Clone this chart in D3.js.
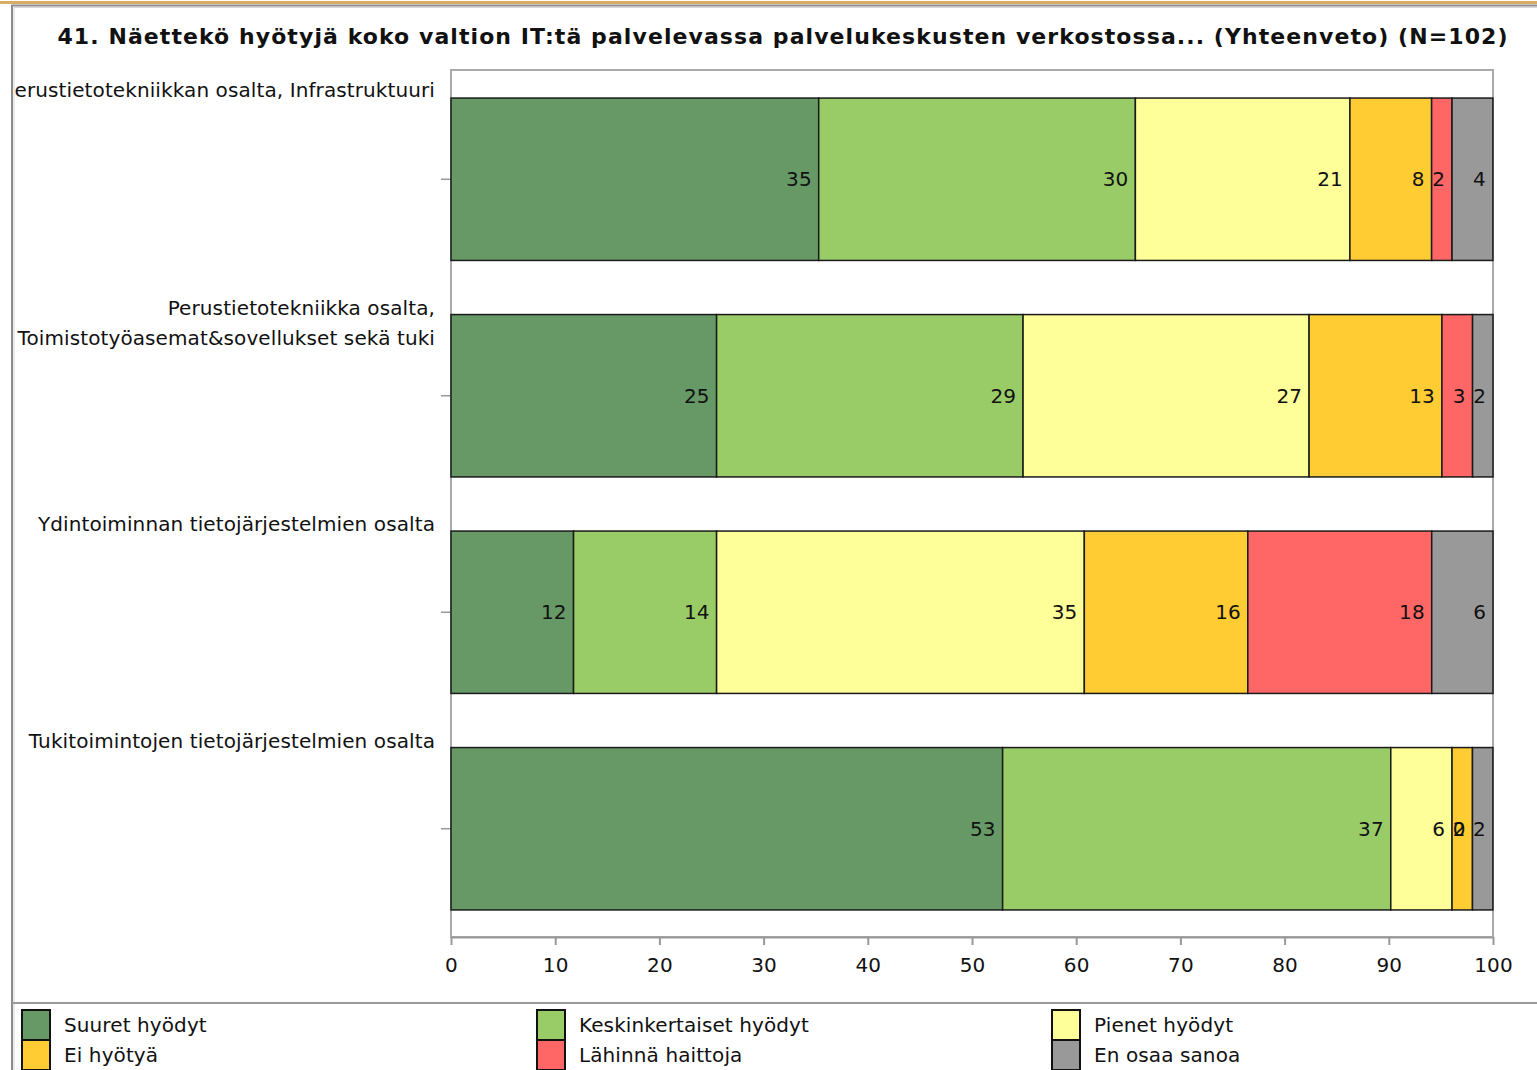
<!DOCTYPE html>
<html>
<head>
<meta charset="utf-8">
<script src="https://cdn.jsdelivr.net/npm/d3@7"></script>
<style>
  body { margin: 0; background: #fff; }
  text { font-family: "DejaVu Sans", Verdana, sans-serif; fill: #111; }
</style>
</head>
<body>
<svg id="chart"></svg>
<script>
const width = 1537;
const height = 1070;

// Data (percent of N=102)
const title = "41. Näettekö hyötyjä koko valtion IT:tä palvelevassa palvelukeskusten verkostossa... (Yhteenveto) (N=102)";
const categories = [
  "Perustietotekniikkan osalta, Infrastruktuuri",
  "Perustietotekniikka osalta, Toimistotyöasemat&sovellukset sekä tuki",
  "Ydintoiminnan tietojärjestelmien osalta",
  "Tukitoimintojen tietojärjestelmien osalta"
];
const categoryLines = [
  ["Perustietotekniikkan osalta, Infrastruktuuri"],
  ["Perustietotekniikka osalta,", "Toimistotyöasemat&sovellukset sekä tuki"],
  ["Ydintoiminnan tietojärjestelmien osalta"],
  ["Tukitoimintojen tietojärjestelmien osalta"]
];
const seriesNames = ["Suuret hyödyt", "Keskinkertaiset hyödyt", "Pienet hyödyt", "Ei hyötyä", "Lähinnä haittoja", "En osaa sanoa"];
const seriesColors = ["#669966", "#99cc66", "#ffff99", "#ffcc33", "#ff6666", "#999999"];
const suuretHyodyt = [35.29, 25.49, 11.76, 52.94];
const keskinkertaisetHyodyt = [30.39, 29.41, 13.73, 37.25];
const pienetHyodyt = [20.59, 27.45, 35.29, 5.88];
const eiHyotya = [7.84, 12.75, 15.69, 1.96];
const lahinnaHaittoja = [1.96, 2.94, 17.65, 0];
const enOsaaSanoa = [3.92, 1.96, 5.88, 1.96];
const xTicks = [0, 10, 20, 30, 40, 50, 60, 70, 80, 90, 100];

const seriesValues = [suuretHyodyt, keskinkertaisetHyodyt, pienetHyodyt, eiHyotya, lahinnaHaittoja, enOsaaSanoa];

const rows = categories.map((c, i) => {
  let r = {category: c};
  seriesNames.forEach((s, j) => { r[s] = seriesValues[j][i]; });
  return r;
});

const svg = d3.select("svg#chart")
  .attr("width", width)
  .attr("height", height);

const plot = {left: 451, right: 1493, top: 70, bottom: 937};
const fontSize = 20;

svg.append("rect").attr("width", width).attr("height", height).attr("fill", "#fff");

// work out letter spacing so the text gets the wide look of the original
const probe = svg.append("text").style("font-size", fontSize + "px")
  .text("Ydintoiminnan tietojärjestelmien osalta");
const probeLen = probe.node().getComputedTextLength();
const spacing = Math.max(0, (397 - probeLen) / 38);
probe.remove();

// window frame
svg.append("rect").attr("x", 0).attr("y", 1).attr("width", width).attr("height", 3).attr("fill", "#d8ad62");
svg.append("path")
  .attr("d", "M12," + height + "V5.5H" + width)
  .attr("fill", "none").attr("stroke", "#8c8c8c").attr("stroke-width", 2);
svg.append("path")
  .attr("d", "M14," + height + "V7.5H" + width)
  .attr("fill", "none").attr("stroke", "#d6d6d6").attr("stroke-width", 1);
svg.append("line")
  .attr("x1", 12).attr("x2", width).attr("y1", 1003).attr("y2", 1003)
  .attr("stroke", "#9a9a9a").attr("stroke-width", 2);

// title
const titleText = svg.append("text")
  .attr("x", 783)
  .attr("y", 36)
  .attr("dy", "0.35em")
  .attr("text-anchor", "middle")
  .style("font-size", "22px")
  .style("font-weight", "bold")
  .text(title);
let tw = titleText.node().getComputedTextLength();
titleText.style("letter-spacing", ((1450 - tw) / (title.length - 1)) + "px");

// scales
const x = d3.scaleLinear().domain([0, 100]).range([plot.left, plot.right]);
const y = d3.scaleBand()
  .domain(categories)
  .range([plot.top + 1, plot.bottom])
  .paddingInner(0.25)
  .paddingOuter(0.125);

// plot frame
svg.append("rect")
  .attr("x", plot.left).attr("y", plot.top)
  .attr("width", plot.right - plot.left).attr("height", plot.bottom - plot.top)
  .attr("fill", "none").attr("stroke", "#aaaaaa").attr("stroke-width", 2);

// x axis
const xAxis = svg.append("g")
  .attr("transform", "translate(0," + plot.bottom + ")")
  .call(d3.axisBottom(x).tickValues(xTicks).tickSize(8).tickSizeOuter(0).tickPadding(13));
xAxis.select(".domain").attr("stroke", "#999").attr("stroke-width", 2);
xAxis.selectAll(".tick line").attr("stroke", "#999").attr("stroke-width", 2);
xAxis.selectAll(".tick text")
  .attr("fill", "#111")
  .style("font-family", "'DejaVu Sans', Verdana, sans-serif")
  .style("font-size", fontSize + "px")
  .style("letter-spacing", spacing + "px");

// y ticks
svg.append("g").selectAll("line")
  .data(categories)
  .enter().append("line")
  .attr("x1", plot.left - 10).attr("x2", plot.left)
  .attr("y1", d => y(d) + y.bandwidth() / 2)
  .attr("y2", d => y(d) + y.bandwidth() / 2)
  .attr("stroke", "#999").attr("stroke-width", 1.5);

// category labels (clipped by the window frame on the left)
svg.append("defs").append("clipPath").attr("id", "labelClip")
  .append("rect").attr("x", 15).attr("y", 0).attr("width", plot.left - 15).attr("height", height);

const catGroup = svg.append("g").attr("clip-path", "url(#labelClip)");
categories.forEach((c, i) => {
  const top = (i == 0) ? plot.top : y(c) - y.step() * y.paddingInner() / 2;
  catGroup.append("text")
    .attr("x", 435)
    .attr("text-anchor", "end")
    .style("font-size", fontSize + "px")
    .style("letter-spacing", spacing + "px")
    .selectAll("tspan")
    .data(categoryLines[i])
    .enter().append("tspan")
    .attr("x", 435)
    .attr("y", (d, k) => top + 20 + k * 30)
    .attr("dy", "0.35em")
    .text(d => d);
});

// stacked bars
const stack = d3.stack().keys(seriesNames);
const stacked = stack(rows);

const layers = svg.append("g").selectAll("g")
  .data(stacked)
  .enter().append("g")
  .attr("fill", (d, i) => seriesColors[i]);

layers.selectAll("rect")
  .data(d => d)
  .enter().append("rect")
  .attr("x", d => x(d[0]))
  .attr("y", d => y(d.data.category))
  .attr("width", d => x(d[1]) - x(d[0]))
  .attr("height", y.bandwidth())
  .attr("stroke", "#1a1a1a")
  .attr("stroke-width", 1.5);

// value labels
layers.selectAll("text")
  .data(d => d.map(v => ({v: v, key: d.key})))
  .enter().append("text")
  .attr("x", d => x(d.v[1]) - 7)
  .attr("y", d => y(d.v.data.category) + y.bandwidth() / 2)
  .attr("dy", "0.35em")
  .attr("text-anchor", "end")
  .style("font-size", fontSize + "px")
  .style("letter-spacing", spacing + "px")
  .text(d => Math.round(d.v.data[d.key]));

// legend
const legendCols = [22, 537, 1052];
const legend = svg.append("g").selectAll("g")
  .data(seriesNames)
  .enter().append("g")
  .attr("transform", (d, i) => "translate(" + legendCols[i % 3] + "," + (1010 + Math.floor(i / 3) * 30) + ")");

legend.append("rect")
  .attr("x", 0).attr("y", 0)
  .attr("width", 28).attr("height", 30)
  .attr("fill", (d, i) => seriesColors[i])
  .attr("stroke", "#111").attr("stroke-width", 2);

legend.append("text")
  .attr("x", 42).attr("y", 15)
  .attr("dy", "0.35em")
  .style("font-size", fontSize + "px")
  .style("letter-spacing", spacing + "px")
  .text(d => d);
</script>
</body>
</html>
